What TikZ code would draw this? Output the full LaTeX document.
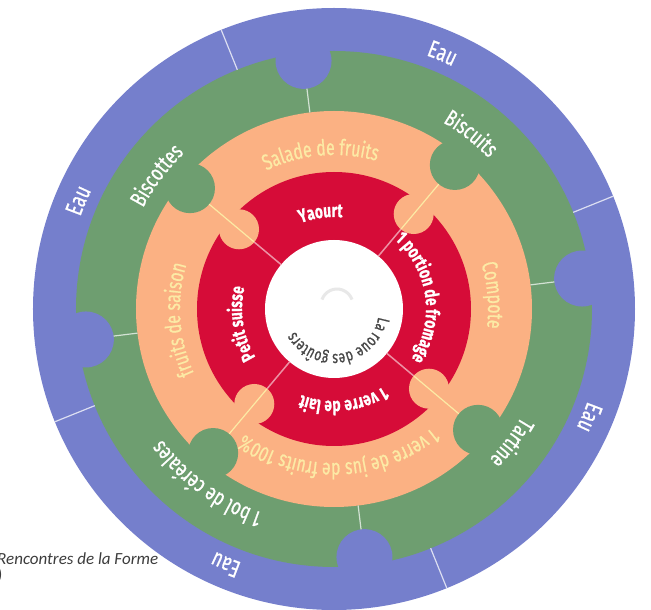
\documentclass[tikz,border=0pt]{standalone}
\usepackage{fontspec}
\usetikzlibrary{decorations.text}
\newfontfamily\roue[FakeStretch=0.72, FakeBold=0.7]{Fira Sans}
\newfontfamily\legende{Carlito}

\begin{document}
\begin{tikzpicture}
  % Definir colores
  \definecolor{eaucolor}{RGB}{117,127,204}
  \definecolor{vertcolor}{RGB}{110,158,112}
  \definecolor{orangecolor}{RGB}{251,177,131}
  \definecolor{rougecolor}{RGB}{214,12,56}
  \definecolor{cremecolor}{RGB}{252,234,165}
  \definecolor{centrecolor}{RGB}{72,72,72}
  \definecolor{legendecolor}{RGB}{60,60,60}

  % Configurar estilos
  \tikzset{
    etiqEau/.style={decorate, decoration={text along path, text align=center, text color=white, text={|\roue\fontsize{24}{24}\selectfont|#1}}},
    etiqVert/.style={decorate, decoration={text along path, text align=center, text color=white, text={|\roue\fontsize{23}{23}\selectfont|#1}}},
    etiqOrange/.style={decorate, decoration={text along path, text align=center, text color=cremecolor, text={|\roue\fontsize{22}{22}\selectfont|#1}}},
    etiqRouge/.style={decorate, decoration={text along path, text align=center, text color=white, text={|\roue\bfseries\fontsize{19}{19}\selectfont|#1}}},
    etiqCentre/.style={decorate, decoration={text along path, text align=center, text color=centrecolor, text={|\roue\fontsize{17}{17}\selectfont|#1}}},
    divEau/.style={draw=white!75!eaucolor, line width=1.2pt},
    divVert/.style={draw=white!70!vertcolor, line width=1.2pt},
    divOrange/.style={draw=cremecolor, line width=1.2pt},
    divRouge/.style={draw=white!55!rougecolor, line width=1.5pt}
  }

  % Marco de la imagen
  \clip (-334pt,-301pt) rectangle (317pt,309pt);

  % Anillo azul
  \fill[eaucolor] (0,0) circle[radius=301pt];

  % Anillo verde y muescas azules
  \fill[vertcolor] (0,0) circle[radius=258pt];
  \foreach \a in {7,97,187,277}
    \fill[eaucolor] (\a:250pt) circle[radius=28pt];

  % Anillo naranja y muescas verdes
  \fill[orangecolor] (0,0) circle[radius=198pt];
  \foreach \a in {50,140,230,320}
    \fill[vertcolor] (\a:188pt) circle[radius=25pt];

  % Anillo rojo y muescas naranjas
  \fill[rougecolor] (0,0) circle[radius=137pt];
  \foreach \a in {50,140,230,320}
    \fill[orangecolor] (\a:124pt) circle[radius=20pt];

  % Disco central
  \fill[white] (0,0) circle[radius=69pt];
  \draw[gray!18, line width=3pt] (3pt,4pt) ++(160:16pt) arc[start angle=160, end angle=20, radius=16pt];

  % Separaciones
  \foreach \a in {22,112,202,292}
    \draw[divEau] (\a:258pt) -- (\a:301pt);
  \foreach \a in {7,97,187,277}
    \draw[divVert] (\a:222pt) -- (\a:198pt);
  \foreach \a in {50,140,230,320}
    \draw[divOrange] (\a:163pt) -- (\a:104pt);
  \foreach \a in {50,140,230,320}
    \draw[divRouge] (\a:104pt) -- (\a:69pt);

  % Eau
  \path[etiqEau={Eau}] (97:270pt) arc[start angle=97, end angle=37, radius=270pt];
  \path[etiqEau={Eau}] (187:270pt) arc[start angle=187, end angle=127, radius=270pt];
  \path[etiqEau={Eau}] (277:270pt) arc[start angle=277, end angle=217, radius=270pt];
  \path[etiqEau={Eau}] (367:270pt) arc[start angle=367, end angle=307, radius=270pt];

  % Anillo verde
  \path[etiqVert={Biscuits}] (97:216pt) arc[start angle=97, end angle=7, radius=216pt];
  \path[etiqVert={Biscottes}] (188:216pt) arc[start angle=188, end angle=98, radius=216pt];
  \path[etiqVert={1 bol de céréales}] (279:216pt) arc[start angle=279, end angle=189, radius=216pt];
  \path[etiqVert={Tartine}] (368:216pt) arc[start angle=368, end angle=278, radius=216pt];

  % Anillo naranja
  \path[etiqOrange={Salade de fruits}] (140:154pt) arc[start angle=140, end angle=50, radius=154pt];
  \path[etiqOrange={Compote}] (50:154pt) arc[start angle=50, end angle=-40, radius=154pt];
  \path[etiqOrange={fruits de saison}] (229:154pt) arc[start angle=229, end angle=139, radius=154pt];
  \path[etiqOrange={1 verre de jus de fruits 100{\%}}] (332:154pt) arc[start angle=332, end angle=212, radius=154pt];

  % Anillo rojo
  \path[etiqRouge={Yaourt}] (143:92pt) arc[start angle=143, end angle=53, radius=92pt];
  \path[etiqRouge={1 portion de fromage}] (68:92pt) arc[start angle=68, end angle=-52, radius=92pt];
  \path[etiqRouge={1 verre de lait}] (321:92pt) arc[start angle=321, end angle=231, radius=92pt];
  \path[etiqRouge={Petit suisse}] (234:92pt) arc[start angle=234, end angle=144, radius=92pt];

  % Centro
  \path[etiqCentre={La roue des goûters}] (10:45pt) arc[start angle=10, end angle=-170, radius=45pt];

  % Fuente
  \node[font=\legende\itshape\fontsize{17}{17}\selectfont, text=legendecolor, anchor=north west, align=left, inner sep=0pt] (fuente) at (-337pt,-243pt) {Rencontres de la Forme\\)};
\end{tikzpicture}
\end{document}
